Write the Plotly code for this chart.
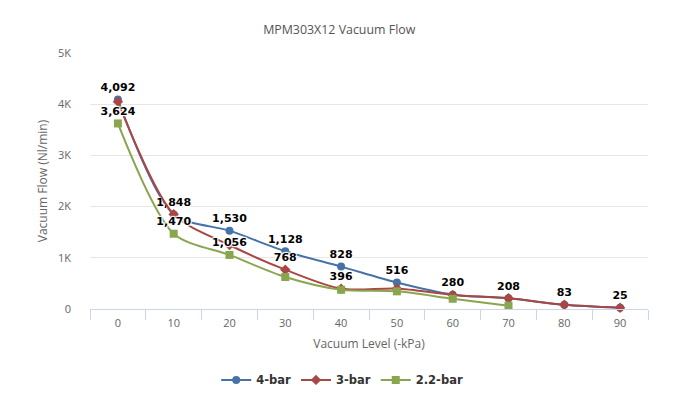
import plotly.graph_objects as go

vacuum_level = [0, 10, 20, 30, 40, 50, 60, 70, 80, 90]
flow_4bar = [4092, 1848, 1530, 1128, 828, 516, 280, 208, 83, 25]
flow_3bar = [4050, 1850, 1250, 768, 396, 400, 275, 210, 83, 25]
flow_22bar = [3624, 1470, 1056, 625, 375, 345, 200, 65]
x_22bar = vacuum_level[:len(flow_22bar)]

# which data labels are visible (others hidden by overlap in the original)
show_4bar = [True] * 10
show_3bar = [False, False, False, True, True, False, False, False, False, False]
show_22bar = [True, True, True, False, False, False, False, False]

y_tickvals = [0, 1000, 2000, 3000, 4000, 5000]
y_ticktext = ["0", "1K", "2K", "3K", "4K", "5K"]

FONT = "Open Sans, DejaVu Sans, sans-serif"
BOLD_FONT = "DejaVu Sans, Verdana, sans-serif"
OUTLINE = "1px 1px 1px #fff, -1px -1px 1px #fff, 1px -1px 1px #fff, -1px 1px 1px #fff"


def labels(vals, mask):
    return [f"{v:,}" if m else "" for v, m in zip(vals, mask)]


series = [
    ("4-bar", vacuum_level, flow_4bar, show_4bar, "#4572A7", "circle", 8),
    ("3-bar", vacuum_level, flow_3bar, show_3bar, "#AA4643", "diamond", 8),
    ("2.2-bar", x_22bar, flow_22bar, show_22bar, "#89A54E", "square", 8),
]

fig = go.Figure()
for name, xs, ys, mask, color, sym, size in series:
    fig.add_trace(go.Scatter(
        x=xs, y=ys, name=name, mode="lines+markers+text",
        line=dict(color=color, width=2, shape="spline", smoothing=0.8),
        marker=dict(color=color, symbol=sym, size=size),
        text=labels(ys, mask), textposition="top center",
        textfont=dict(family=BOLD_FONT, size=11, color="#000", weight="bold", shadow=OUTLINE),
        cliponaxis=False,
    ))

minor_ticks = [v - 5 for v in vacuum_level] + [vacuum_level[-1] + 5]

fig.update_layout(
    width=676, height=394,
    margin=dict(l=82, r=36, t=45, b=93, autoexpand=False),
    paper_bgcolor="#fff", plot_bgcolor="#fff",
    font=dict(family=FONT, color="#666", size=11),
    title=dict(text="MPM303X12 Vacuum Flow", x=0.49, xanchor="center", y=0.945, yanchor="middle",
               font=dict(family=FONT, size=12.4, color="#555")),
    xaxis=dict(
        range=[-5, 95], tickmode="array", tickvals=vacuum_level,
        ticktext=[str(v) for v in vacuum_level], ticks="",
        showgrid=False, zeroline=False, showline=True, linecolor="#ccd6eb", linewidth=1,
        tickfont=dict(size=11, color="#666"), ticklabelstandoff=4,
        minor=dict(tickmode="array", tickvals=minor_ticks, ticks="outside", ticklen=10,
                   tickcolor="#ccd6eb", tickwidth=1, showgrid=False),
        title=dict(text="Vacuum Level (-kPa)", font=dict(size=12, color="#666"), standoff=10),
        automargin=False,
    ),
    yaxis=dict(
        range=[0, 5000], tickmode="array", tickvals=y_tickvals, ticktext=y_ticktext,
        showgrid=True, gridcolor="#e6e6e6", gridwidth=1, zeroline=False, showline=False,
        tickfont=dict(size=11, color="#666"), ticks="", ticklabelstandoff=18,
        title=dict(text="Vacuum Flow (Nl/min)", font=dict(size=12, color="#666"), standoff=7),
        automargin=False,
    ),
    legend=dict(orientation="h", x=0.452, xanchor="center", y=-0.277, yanchor="middle",
                font=dict(family=BOLD_FONT, size=11.5, color="#333", weight="bold"),
                itemwidth=30),
    showlegend=True,
)

fig.write_html("out.html")
